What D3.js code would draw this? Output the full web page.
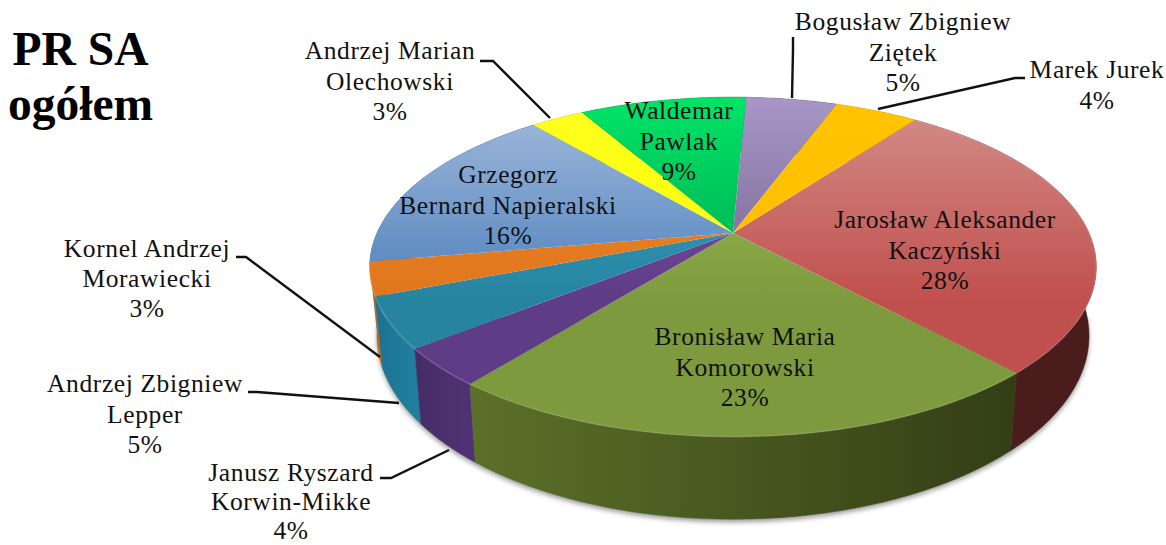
<!DOCTYPE html>
<html><head><meta charset="utf-8">
<script src="https://cdnjs.cloudflare.com/ajax/libs/d3/7.8.5/d3.min.js"></script>
<style>html,body{margin:0;padding:0;background:#fff}svg{display:block}
text{font-family:"Liberation Serif",serif;fill:#111}</style></head><body>
<svg id="c" width="1166" height="545"></svg>
<script>
const candidates=["Jarosław Aleksander Kaczyński","Bronisław Maria Komorowski","Janusz Ryszard Korwin-Mikke","Andrzej Zbigniew Lepper","Kornel Andrzej Morawiecki","Grzegorz Bernard Napieralski","Andrzej Marian Olechowski","Waldemar Pawlak","Bogusław Zbigniew Ziętek","Marek Jurek"];
const shares=[28.0,22.6,3.6,4.8,3.2,16.5,2.9,9.0,4.9,4.5];
const shownPercent=["28%","23%","4%","5%","3%","16%","3%","9%","5%","4%"];
const labelLines=[["Jarosław Aleksander","Kaczyński"],["Bronisław Maria","Komorowski"],["Janusz Ryszard","Korwin-Mikke"],["Andrzej Zbigniew","Lepper"],["Kornel Andrzej","Morawiecki"],["Grzegorz","Bernard Napieralski"],["Andrzej Marian","Olechowski"],["Waldemar","Pawlak"],["Bogusław Zbigniew","Ziętek"],["Marek Jurek"]];
const faceTop=["#d48f8b","#a3c45c","#8a55b0","#35a8cc","#f08a30","#a4bcdc","#ffff20","#00e468","#a896c8","#ffc400"];
const faceBase=["#c0504d","#7e9a3e","#5e3c86","#27849f","#e0761c","#4f81bd","#ffff00","#00a84e","#75648f","#ffbc00"];
const sideLight=["#5a2525","#5c7029","#503274","#217f9e","#c46a18","#3b6aa0","#c8c800","#008a40","#5f4f78","#cc9600"];
const sideDark=["#4a1c1c","#333e15","#452c66","#1c7290","#a85a14","#30588a","#b0b000","#007535","#4c3f60","#b08000"];
// label anchor [x, first baseline, line step], leader polyline (annotation layout)
const labelPos=[[945,228,30.6],[745,345,30.6],[291,481,29],[145,392,30.6],[147,257,30],[508,183,30.6],[390,59,30.6],[679,119,30.6],[903,30,30.6],[1097,78,30.6]];
const leaders=[null,null,[[380,478],[391,478],[449,450]],[[248,392],[257,392],[399,403]],[[236,257],[246,257],[380,357]],null,[[480,61],[493,61],[550,118]],null,[[793,37],[793,50],[792,98]],[[1025,78],[1015,78],[878,109]]];
const titleLines=["PR SA","ogółem"];

const svg=d3.select("#c"), defs=svg.append("defs");
const cx=733,cy=233,a=163,b=356,k=0.2,depth=66,shrink=0.98;
const rad=d3.scaleLinear().domain([0,360]).range([0,2*Math.PI]);
const w=t=>1+k*Math.cos(t);
const topPt=t=>[cx+b*Math.sin(t)/w(t),cy-a*Math.cos(t)/w(t)];
const botPt=t=>[cx+shrink*b*Math.sin(t)/w(t),cy+(depth-a*Math.cos(t))/w(t)];
const pie=d3.pie().sort(null).startAngle(rad(36.4)).endAngle(rad(36.4+360)).value(d=>d);
const arcs=pie(shares);
const line=d3.line();
const samples=(s,e)=>d3.range(0,41).map(i=>s+(e-s)*i/40);

defs.append("filter").attr("id","sh").attr("x","-5%").attr("y","-5%").attr("width","110%").attr("height","115%")
 .append("feGaussianBlur").attr("stdDeviation",2.5);
arcs.forEach((d,i)=>{
  const g=defs.append("linearGradient").attr("id","f"+i).attr("gradientUnits","userSpaceOnUse").attr("x1",0).attr("x2",0).attr("y1",97).attr("y2",300);
  g.append("stop").attr("offset",0).attr("stop-color",faceTop[i]);
  g.append("stop").attr("offset",1).attr("stop-color",faceBase[i]);
  const h=defs.append("linearGradient").attr("id","s"+i).attr("gradientUnits","userSpaceOnUse").attr("x1",topPt(d.startAngle)[0]).attr("x2",topPt(d.endAngle)[0]).attr("y1",0).attr("y2",0);
  h.append("stop").attr("offset",0).attr("stop-color",i===1?sideDark[i]:sideLight[i]);
  h.append("stop").attr("offset",1).attr("stop-color",i===1?sideLight[i]:sideDark[i]);
});

// soft shadow under the front rim
svg.append("path").attr("d",line(samples(rad(95),rad(265)).map(t=>{const p=botPt(t);return [p[0],p[1]+3];}))+"Z")
 .attr("fill","#999").attr("filter","url(#sh)");

// side walls, back to front
const order=d3.range(arcs.length).sort((p,q)=>{
  const m=d=>Math.abs(((d.startAngle+d.endAngle)/2)%(2*Math.PI)-Math.PI);
  return m(arcs[q])-m(arcs[p]);});
svg.append("g").selectAll("path").data(order).join("path")
 .attr("d",i=>{const s=samples(arcs[i].startAngle,arcs[i].endAngle);
   return line(s.map(topPt).concat(s.slice().reverse().map(botPt)))+"Z";})
 .attr("fill",i=>`url(#s${i})`).attr("stroke",i=>`url(#s${i})`).attr("stroke-width",0.5);

// top faces
svg.append("g").selectAll("path").data(arcs).join("path")
 .attr("d",d=>line([[cx,cy]].concat(samples(d.startAngle,d.endAngle).map(topPt)))+"Z")
 .attr("fill",(d,i)=>`url(#f${i})`);

// light bevel on the front rim
svg.append("g").selectAll("path").data(arcs).join("path")
 .attr("d",d=>line(samples(d.startAngle,d.endAngle).map(topPt)))
 .attr("fill","none").attr("stroke","#fff").attr("stroke-opacity",d=>{const m=Math.cos((d.startAngle+d.endAngle)/2);return m<0.1?0.16:0;}).attr("stroke-width",1.5);

// leaders
svg.append("g").selectAll("path").data(leaders.filter(Boolean)).join("path")
 .attr("d",d=>line(d)).attr("fill","none").attr("stroke","#111").attr("stroke-width",2.4);

// labels
const fs=25.5;
const lab=svg.append("g").selectAll("text").data(candidates).join("text")
 .attr("text-anchor","middle").attr("font-size",fs).attr("letter-spacing",0.6);
lab.each(function(name,i){
  const t=d3.select(this), lines=labelLines[i].concat(shownPercent[i]);
  lines.forEach((s,j)=>t.append("tspan").attr("x",labelPos[i][0]).attr("y",labelPos[i][1]+j*labelPos[i][2]).text(s));
});

// title
svg.append("g").selectAll("text").data(titleLines).join("text")
 .attr("x",80.5).attr("y",(d,i)=>65+i*54.5).attr("text-anchor","middle")
 .attr("font-size",47.5).attr("font-weight","bold").style("fill","#000").text(d=>d);
</script></body></html>
